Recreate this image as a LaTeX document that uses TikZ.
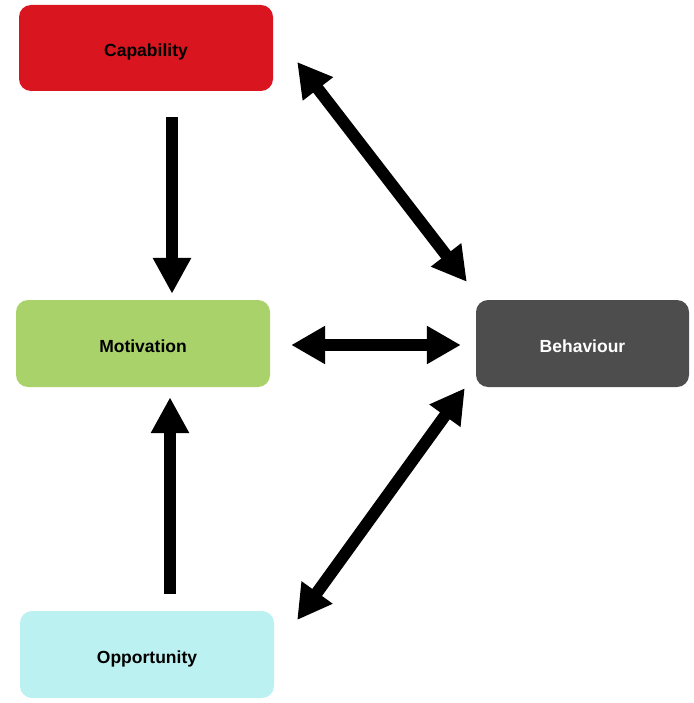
\documentclass[tikz,border=0pt]{standalone}
\usepackage{fontspec}
\setmainfont{Liberation Sans}
\usetikzlibrary{arrows.meta}
\definecolor{capred}{HTML}{D9161F}
\definecolor{motgreen}{HTML}{A9D26A}
\definecolor{behgrey}{HTML}{4D4D4D}
\definecolor{oppcyan}{HTML}{BBF1F0}
\tikzset{
  box/.style={rectangle, rounded corners=12pt, minimum width=254pt, minimum height=87pt, inner sep=0pt, text height=17.5pt, text depth=0pt, font=\fontsize{17.5}{20}\selectfont\bfseries},
  bigarrow/.style={line width=12pt, -{Triangle[length=36pt,width=36pt]}},
  bigdarrow/.style={line width=12pt, {Triangle[length=34pt,width=36pt]}-{Triangle[length=34pt,width=36pt]}}
}
\begin{document}
\begin{tikzpicture}[x=1pt,y=1pt]
\useasboundingbox (0,0) rectangle (693,-703);
\node[box, fill=capred, minimum height=86pt] (cap) at (146,-48) {Capability};
\node[box, fill=motgreen] (mot) at (143,-343.5) {Motivation};
\node[box, fill=behgrey, text=white, minimum width=213pt] (beh) at (582.5,-343.5) {Behaviour};
\node[box, fill=oppcyan] (opp) at (147,-654.5) {Opportunity};
\draw[bigarrow] ([shift={(26,-26)}]cap.south) -- ([shift={(29,6)}]mot.north);
\draw[bigarrow] ([shift={(23,17)}]opp.north) -- ([shift={(27,-10)}]mot.south);
\draw[bigdarrow] ([shift={(21,-1.5)}]mot.east) -- ([shift={(-15,-1.5)}]beh.west);
\draw[bigdarrow] ([shift={(24,-14)}]cap.east) -- ([shift={(-9,18)}]beh.north west);
\draw[bigdarrow] ([shift={(23,34.5)}]opp.east) -- ([shift={(-11,-1)}]beh.south west);
\end{tikzpicture}
\end{document}
